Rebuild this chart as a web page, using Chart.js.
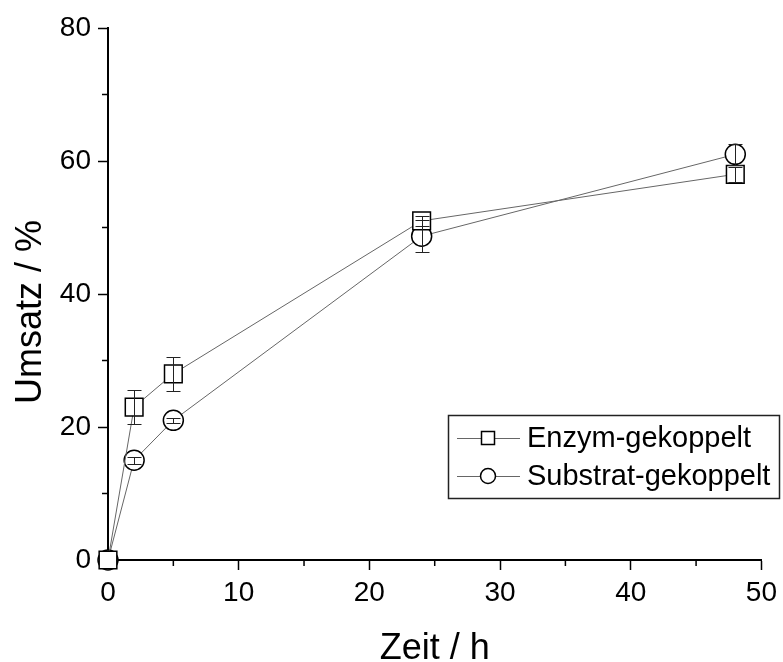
<!DOCTYPE html>
<html>
<head>
<meta charset="utf-8">
<script src="https://cdn.jsdelivr.net/npm/chart.js@4"></script>
<style>
  body { margin: 0; background: #fff; }
  canvas { display: block; }
</style>
</head>
<body>
<canvas id="chart" width="783" height="662"></canvas>
<script>
// data
var timeHours = [0, 2, 5, 24, 48];
var enzymValues = [0, 23, 28, 51, 58];
var enzymErrors = [0, 2.6, 2.6, 0.8, 1.1];
var substratValues = [0, 15, 21, 48.7, 61];
var substratErrors = [0, 0.5, 0.4, 2.4, 1.6];
var seriesNames = ["Enzym-gekoppelt", "Substrat-gekoppelt"];
var xTicks = [0, 10, 20, 30, 40, 50];
var yTicks = [0, 20, 40, 60, 80];
var xTitle = "Zeit / h";
var yTitle = "Umsatz / %";

var fontFamily = "'Liberation Sans', Arial, sans-serif";

function toPoints(xs, ys, errs) {
    return xs.map(function (x, i) {
        return { x: x, y: ys[i], err: errs[i] };
    });
}

// error bars drawn over the markers through the scales
var errorBars = {
    id: 'errorBars',
    afterDatasetsDraw: function (chart) {
        var ctx = chart.ctx;
        var xs = chart.scales.x, ys = chart.scales.y;
        ctx.save();
        ctx.strokeStyle = '#222';
        ctx.lineWidth = 1;
        chart.data.datasets.forEach(function (ds) {
            ds.data.forEach(function (p) {
                if (!p.err) return;
                var px = Math.round(xs.getPixelForValue(p.x)) + 0.5;
                var top = Math.round(ys.getPixelForValue(p.y + p.err)) + 0.5;
                var bot = Math.round(ys.getPixelForValue(p.y - p.err)) + 0.5;
                ctx.beginPath();
                ctx.moveTo(px, top); ctx.lineTo(px, bot);
                ctx.moveTo(px - 7, top); ctx.lineTo(px + 7, top);
                ctx.moveTo(px - 7, bot); ctx.lineTo(px + 7, bot);
                ctx.stroke();
            });
        });
        ctx.restore();
    }
};

// minor ticks and axis titles
var axisExtras = {
    id: 'axisExtras',
    afterDraw: function (chart) {
        var ctx = chart.ctx;
        var xs = chart.scales.x, ys = chart.scales.y;
        var area = chart.chartArea;
        ctx.save();
        ctx.strokeStyle = '#000';
        ctx.lineWidth = 1.5;
        ctx.beginPath();
        for (var v = 5; v < 50; v += 10) {
            var px = xs.getPixelForValue(v);
            ctx.moveTo(px, area.bottom); ctx.lineTo(px, area.bottom + 6);
        }
        for (var w = 10; w < 80; w += 20) {
            var py = ys.getPixelForValue(w);
            ctx.moveTo(area.left, py); ctx.lineTo(area.left - 6, py);
        }
        ctx.stroke();

        ctx.fillStyle = '#000';
        ctx.font = '36px ' + fontFamily;
        ctx.textAlign = 'center';
        ctx.textBaseline = 'alphabetic';
        ctx.fillText(xTitle, (area.left + area.right) / 2, 659);
        ctx.translate(41, (area.top + area.bottom) / 2 + 18);
        ctx.rotate(-Math.PI / 2);
        ctx.fillText(yTitle, 0, 0);
        ctx.restore();
    }
};

// boxed legend inside the plot, bottom right
var boxLegend = {
    id: 'boxLegend',
    afterDraw: function (chart) {
        var ctx = chart.ctx;
        var x0 = 448, y0 = 415, w = 331, h = 83;
        ctx.save();
        ctx.fillStyle = '#fff';
        ctx.fillRect(x0, y0, w, h);
        ctx.strokeStyle = '#222';
        ctx.lineWidth = 1.5;
        ctx.strokeRect(x0 + 0.5, y0 + 0.5, w, h);
        var rows = [438, 476];
        chart.data.datasets.forEach(function (ds, i) {
            var cy = rows[i];
            ctx.strokeStyle = '#666';
            ctx.lineWidth = 1;
            ctx.beginPath();
            ctx.moveTo(457, cy + 0.5); ctx.lineTo(520, cy + 0.5);
            ctx.stroke();
            ctx.fillStyle = '#fff';
            ctx.strokeStyle = '#000';
            ctx.lineWidth = 1.5;
            ctx.beginPath();
            if (ds.pointStyle === 'rect') {
                ctx.rect(481.5, cy - 6.5, 13, 13);
            } else {
                ctx.arc(488, cy, 7.5, 0, Math.PI * 2);
            }
            ctx.fill();
            ctx.stroke();
            ctx.fillStyle = '#000';
            ctx.font = '29px ' + fontFamily;
            ctx.textBaseline = 'middle';
            ctx.fillText(ds.label, 527, cy + 1);
        });
        ctx.restore();
    }
};

var lineCanvas = document.getElementById('chart');
var lineChart = new Chart(lineCanvas, {
    type: 'line',
    data: {
        datasets: [
            {
                label: seriesNames[0],
                data: toPoints(timeHours, enzymValues, enzymErrors),
                borderColor: '#666',
                borderWidth: 1,
                pointStyle: 'rect',
                pointRadius: 12.5,
                pointBackgroundColor: '#fff',
                pointBorderColor: '#000',
                pointBorderWidth: 1.5,
                fill: false,
                clip: false
            },
            {
                label: seriesNames[1],
                data: toPoints(timeHours, substratValues, substratErrors),
                borderColor: '#666',
                borderWidth: 1,
                pointStyle: 'circle',
                pointRadius: 10,
                pointBackgroundColor: '#fff',
                pointBorderColor: '#000',
                pointBorderWidth: 1.5,
                fill: false,
                clip: false
            }
        ]
    },
    options: {
        responsive: false,
        animation: false,
        layout: { padding: { top: 28, right: 20, left: 0, bottom: 0 } },
        plugins: {
            legend: { display: false },
            tooltip: { enabled: false }
        },
        scales: {
            x: {
                type: 'linear',
                min: 0,
                max: 50,
                afterFit: function (s) { s.height = 102; },
                afterBuildTicks: function (s) { s.ticks = xTicks.map(function (v) { return { value: v }; }); },
                grid: { drawOnChartArea: false, tickLength: 10, tickColor: '#000', tickWidth: 1.5 },
                border: { color: '#000', width: 2 },
                ticks: { color: '#000', padding: 6, maxRotation: 0, font: { family: fontFamily, size: 28 } },
                title: { display: false }
            },
            y: {
                type: 'linear',
                min: 0,
                max: 80,
                afterFit: function (s) { s.width = 108; },
                afterBuildTicks: function (s) { s.ticks = yTicks.map(function (v) { return { value: v }; }); },
                grid: { drawOnChartArea: false, tickLength: 10, tickColor: '#000', tickWidth: 1.5 },
                border: { color: '#000', width: 2 },
                ticks: { color: '#000', padding: 7, font: { family: fontFamily, size: 28 } },
                title: { display: false }
            }
        }
    },
    plugins: [errorBars, axisExtras, boxLegend]
});
</script>
</body>
</html>
